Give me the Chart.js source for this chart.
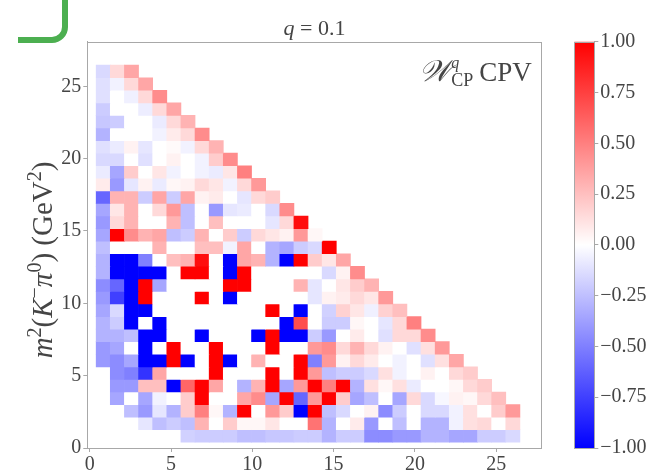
<!DOCTYPE html>
<html>
<head>
<meta charset="utf-8">
<script src="https://cdn.jsdelivr.net/npm/chart.js@4.4.1/dist/chart.umd.min.js"></script>
<style>
  html, body { margin: 0; padding: 0; background: #fff; }
  #wrap { position: relative; width: 663px; height: 475px; }
  #heat { position: absolute; left: 0; top: 0; }
  #cbar { position: absolute; left: 555px; top: 0; }
</style>
</head>
<body>
<div id="wrap">
  <canvas id="heat" width="663" height="475"></canvas>
  <canvas id="cbar" width="108" height="475"></canvas>
</div>
<script>
// Dalitz bins: 30 x 30, same edges on both axes (GeV^2)
const binLow = 0.396;
const binWidth = 0.8688;

const xTicks = [0, 5, 10, 15, 20, 25];
const yTicks = [0, 5, 10, 15, 20, 25];
const cbTicks = [-1, -0.75, -0.5, -0.25, 0, 0.25, 0.5, 0.75, 1];

// first filled column of every row, bottom row first
const rowStart = [6, 3, 2, 1, 1, 1, 0, 0, 0, 0, 0, 0, 0, 0, 0,
                  0, 0, 0, 0, 0, 0, 0, 0, 0, 0, 0, 0, 0, 0, 0];

// W_CP^q CPV per bin, row by row from the bottom
const cpv = [
  [-0.18, -0.2, -0.2, -0.2, -0.25, -0.25, -0.22, -0.22, -0.2, -0.2, -0.3, -0.2, -0.2, -0.45, -0.45, -0.4, -0.4, -0.3, -0.3, -0.35, -0.35, -0.2, -0.2, -0.15],
  [-0.1, -0.25, -0.2, -0.25, 0.3, 0, 0.2, 0.03, 0.03, 0.1, 0, 0, 0.55, -0.3, 0, 0.08, -0.4, 0, -0.25, 0, -0.3, -0.3, -0.05, 0.12, 0.15, 0, 0.15],
  [-0.25, -0.4, -0.1, -0.3, 0.2, 0.5, 0.03, -0.3, 1, 0, 0.4, 0.2, -1, 1, -0.25, -0.15, 0, 0.05, -0.45, -0.2, 0, -0.15, -0.15, -0.05, 0.12, 0, 0.2, 0.4],
  [-0.35, 0, -0.35, -0.05, 0, 0.2, 1, 0, 0, 0.35, 0.45, -0.35, 1, -0.6, 0.4, 1, 0.2, -0.35, -0.25, 0, -0.35, 0.15, -0.15, -0.03, 0.05, 0.03, 0.15, 0.25],
  [-0.4, -0.4, 0.25, 0.25, -1, 0.6, 1, 0.35, 0, -0.3, 0.3, 1, -0.35, 0.4, 1, 0.5, 1, -0.3, 0.12, 0.03, 0.12, -0.08, 0, 0, 0.03, 0.15, 0.2],
  [-0.45, -0.5, -0.8, 0.35, 0, 0, 0, 1, 0, 0, 0, 1, 0, 1, 0.4, -0.25, -0.2, -0.2, -0.15, 0.12, -0.05, 0, 0.05, 0, 0.15, 0.2],
  [-0.4, -0.45, -0.35, -1, -1, 1, -1, 0, 1, -1, 0, 0.3, 0, 0, 1, -0.5, 0.4, 0.05, 0.15, 0.08, 0, -0.05, 0, -0.12, 0.12, 0.35],
  [-0.4, -0.35, 0, -1, 0, 1, 0, 0, 1, 0, 0, 0, 1, 0, 0, 0.4, 0.45, 0.15, 0.3, 0.15, 0.05, 0, -0.12, 0.12, 0.4],
  [-0.3, -0.3, -0.25, -1, -1, 0, 0, -1, 0, 0, 0, -1, 1, -1, -1, -0.2, -0.4, 0, 0.08, 0, -0.12, 0.15, 0.15, 0.45],
  [-0.3, -0.2, -1, 0, -1, 0, 0, 0, 0, 0, 0, 0, 0, -1, 0.7, 0, -0.2, -0.2, 0.03, 0, -0.1, 0.15, 0.5],
  [-0.35, -0.15, -1, -1, 0, 0, 0, 0, 0, 0, 0, 0, 1, 0, -1, 0, -0.18, 0.18, 0.1, -0.06, 0.18, 0.25],
  [-0.4, -0.75, -1, 1, 0, 0, 0, 1, 0, -1, 0, 0, 0, 0, 0, -0.1, 0.05, 0.08, 0.15, 0.1, 0.4],
  [-0.45, -0.6, -1, 1, -0.35, 0, 0, 0, 0, 1, 1, 0, 0, 0, 0.3, -0.1, 0, 0.1, 0.2, 0.3],
  [-0.3, -1, -1, -1, -1, 0, 1, 1, 0, -1, 1, 0, 0, 0, 0, 0, -0.15, 0.05, 0.45],
  [-0.3, -1, -1, -0.5, 0, 0.25, 0.3, 0.95, 0, -1, 0.35, 0.3, -0.3, -1, 1, 0.2, 0.1, 0.35],
  [-0.25, 0, 0, 0, 0.3, 0, 0, 0.25, 0.25, -0.05, 0.35, 0, -0.3, -0.35, -0.2, -0.15, 1],
  [-0.35, 1, 0.45, 0.3, 0.35, -0.25, -0.2, 0.3, 0, 0.2, -0.2, 0.15, 0.1, 0.05, 0.4, 0.03],
  [-0.4, 0.15, 0.3, 0, 0, 0.3, -0.25, 0, 0.25, 0, 0, 0, -0.1, 0.15, 0.95],
  [-0.35, 0.1, 0.3, 0, 0.15, 0.4, -0.25, 0, -0.4, -0.1, -0.08, 0, -0.15, 0.45],
  [-0.6, 0.3, 0.3, -0.2, 0.35, -0.2, 0.35, 0.05, 0.08, 0, -0.1, 0.15, 0.2],
  [0.08, -0.4, -0.1, 0.05, -0.08, 0.03, 0.05, 0.15, 0.1, -0.05, 0.15, 0.4],
  [-0.08, -0.35, 0.2, 0, 0.1, -0.05, 0, -0.05, -0.08, 0.1, 0.5],
  [-0.15, -0.15, 0, -0.12, 0, 0.05, 0, -0.05, 0.2, 0.45],
  [-0.12, -0.08, 0.05, -0.1, 0, 0.02, -0.05, 0.15, 0.3],
  [-0.3, 0, 0, 0, -0.05, 0.08, 0.15, 0.45],
  [-0.22, -0.2, 0, 0, -0.08, 0.15, 0.3],
  [-0.2, 0, 0, -0.07, 0.15, 0.35],
  [-0.12, 0, -0.06, 0.15, 0.45],
  [-0.12, -0.05, 0.15, 0.35],
  [-0.15, 0.15, 0.35]
];

const serif = "'Liberation Serif', 'DejaVu Serif', serif";
const textColor = '#454545';
const frameColor = '#a8a8a8';

// matplotlib bwr
const bwr = v => {
  const t = Math.max(-1, Math.min(1, v));
  const c = Math.round(255 * (1 - Math.abs(t)));
  return t < 0 ? `rgb(${c},${c},255)` : `rgb(255,${c},${c})`;
};

let cells = [];
cpv.forEach((row, j) => row.forEach((v, k) => {
  let i = rowStart[j] + k;
  cells.push({
    x: binLow + (i + 0.5) * binWidth,
    y: [binLow + j * binWidth, binLow + (j + 1) * binWidth],
    v: v
  });
}));

const framePlugin = {
  id: 'frame',
  afterDraw(chart) {
    let { ctx, chartArea: a } = chart;
    ctx.save();
    ctx.strokeStyle = frameColor;
    ctx.lineWidth = 1;
    ctx.strokeRect(Math.round(a.left) + 0.5, Math.round(a.top) + 0.5,
                   Math.round(a.right - a.left), Math.round(a.bottom - a.top));
    ctx.restore();
  }
};

function drawRuns(ctx, runs, x, y, align) {
  let w = 0;
  runs.forEach(r => { ctx.font = r[1]; w += ctx.measureText(r[0]).width; });
  let cx = align === 'center' ? x - w / 2 : (align === 'right' ? x - w : x);
  ctx.textAlign = 'left';
  ctx.textBaseline = 'alphabetic';
  runs.forEach(r => {
    ctx.font = r[1];
    ctx.fillText(r[0], cx, y + (r[2] || 0));
    cx += ctx.measureText(r[0]).width;
  });
}

const textPlugin = {
  id: 'texts',
  afterDraw(chart) {
    let { ctx, chartArea: a } = chart;
    ctx.save();
    ctx.fillStyle = textColor;

    // panel title
    drawRuns(ctx, [['q', `italic 22px ${serif}`], [' = 0.1', `22px ${serif}`]],
             (a.left + a.right) / 2, 35, 'center');

    // y-axis label
    const F = 29, f = 20;
    ctx.save();
    ctx.translate(52, 260);
    ctx.rotate(-Math.PI / 2);
    drawRuns(ctx, [
      ['m', `italic ${F}px ${serif}`], ['2', `${f}px ${serif}`, -11],
      ['(', `${F}px ${serif}`], ['K', `italic ${F}px ${serif}`],
      ['\u2212', `${f}px ${serif}`, -11], ['\u03c0', `italic ${F}px ${serif}`],
      ['0', `${f}px ${serif}`, -11], [')', `${F}px ${serif}`],
      [' (GeV', `${F}px ${serif}`], ['2', `${f}px ${serif}`, -11], [')', `${F}px ${serif}`]
    ], 0, 0, 'center');
    ctx.restore();

    // in-panel tag  W^q_CP CPV
    let xr = a.right - 10, base = 81;
    ctx.font = `27px ${serif}`;
    ctx.textAlign = 'right';
    ctx.fillText('CPV', xr, base);
    xr -= ctx.measureText('CPV').width + 6;
    ctx.font = `18px ${serif}`;
    let wSub = ctx.measureText('CP').width;
    ctx.textAlign = 'left';
    ctx.fillText('CP', xr - wSub, base + 5);
    ctx.font = `italic 16px ${serif}`;
    ctx.fillText('q', xr - wSub, base - 13);
    ctx.font = `italic 30px ${serif}`;
    ctx.textAlign = 'right';
    ctx.fillText('\ud835\udcb2', xr - wSub - 1, base);
    ctx.restore();

    // green corner mark from the screenshot
    ctx.save();
    ctx.strokeStyle = '#4caf50';
    ctx.lineWidth = 6;
    ctx.beginPath();
    ctx.moveTo(65, 0);
    ctx.lineTo(65, 26);
    ctx.arcTo(65, 40, 51, 40, 13);
    ctx.lineTo(18, 40);
    ctx.stroke();
    ctx.restore();
  }
};

const tickFont = { family: serif, size: 20 };

new Chart('heat', {
  type: 'bar',
  data: {
    datasets: [{
      data: cells,
      backgroundColor: c => bwr(c.raw ? c.raw.v : 0),
      borderWidth: 0,
      barPercentage: 1,
      categoryPercentage: 1,
      grouped: false
    }]
  },
  options: {
    responsive: false,
    animation: false,
    events: [],
    layout: { padding: { top: 41.7, right: 121.3, left: 0, bottom: 0 } },
    plugins: { legend: { display: false }, tooltip: { enabled: false } },
    scales: {
      x: {
        type: 'linear', min: -0.15, max: 27.8, offset: false,
        afterBuildTicks: s => { s.ticks = xTicks.map(value => ({ value })); },
        afterFit: s => { s.height = 27; },
        grid: { drawOnChartArea: false, tickLength: 4, color: frameColor, offset: false },
        border: { color: frameColor },
        ticks: { font: tickFont, color: textColor, padding: 1, maxRotation: 0 }
      },
      y: {
        type: 'linear', min: 0, max: 28.08,
        afterBuildTicks: s => { s.ticks = yTicks.map(value => ({ value })); },
        afterFit: s => { s.width = 87.3; },
        grid: { drawOnChartArea: false, tickLength: 4, color: frameColor },
        border: { color: frameColor },
        ticks: { font: tickFont, color: textColor, padding: 2 }
      }
    }
  },
  plugins: [framePlugin, textPlugin]
});

const cbLabel = v => (v < 0 ? '\u2212' : '') + Math.abs(v).toFixed(2);

new Chart('cbar', {
  type: 'bar',
  data: {
    labels: [''],
    datasets: [{
      data: [[cbTicks[0], cbTicks[cbTicks.length - 1]]],
      backgroundColor: c => {
        let a = c.chart.chartArea;
        if (!a) return '#fff';
        let g = c.chart.ctx.createLinearGradient(0, a.bottom, 0, a.top);
        g.addColorStop(0, bwr(-1));
        g.addColorStop(0.5, bwr(0));
        g.addColorStop(1, bwr(1));
        return g;
      },
      borderWidth: 0,
      barPercentage: 1,
      categoryPercentage: 1
    }]
  },
  options: {
    responsive: false,
    animation: false,
    events: [],
    layout: { padding: { left: 19.3, top: 41.7, bottom: 27, right: 0 } },
    plugins: { legend: { display: false }, tooltip: { enabled: false } },
    scales: {
      x: { display: false, offset: true },
      y: {
        position: 'right', min: -1, max: 1,
        afterBuildTicks: s => { s.ticks = cbTicks.map(value => ({ value })); },
        afterFit: s => { s.width = 68.7; },
        grid: { drawOnChartArea: false, tickLength: 4, color: frameColor },
        border: { color: frameColor },
        ticks: { font: tickFont, color: textColor, padding: 2, callback: cbLabel }
      }
    }
  },
  plugins: [framePlugin]
});
</script>
</body>
</html>
